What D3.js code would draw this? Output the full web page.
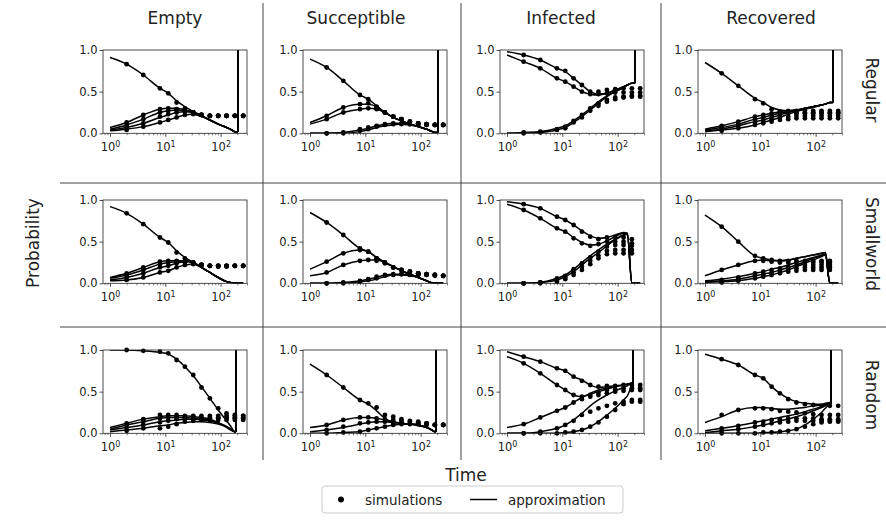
<!DOCTYPE html>
<html>
<head>
<meta charset="utf-8">
<script src="https://cdn.jsdelivr.net/npm/d3@7"></script>
<style>
  body { margin: 0; background: #fff; }
</style>
</head>
<body>
<div id="chart"></div>
<script>
const states = ["Empty", "Succeptible", "Infected", "Recovered"];
const networks = ["Regular", "Smallworld", "Random"];

// time grid of the approximation curves and of the simulation samples
const lineTimes = [1, 2, 4, 8, 11.3, 16, 22.6, 32, 45, 64, 90.5, 128, 150, 181, 256];
const dotTimes = [2, 4, 8, 11.3, 16, 22.6, 32, 45, 64, 90.5, 128, 181, 256];
// approximation blows up at the end for these rows (null = no blow up)
const spikeTimes = [205, null, 190];
const spikeTop = 1.5;

const xTicks = [1, 10, 100];
const yTicks = [0, 0.5, 1];

// ---- Regular ----
const regularEmptyLines = [
  [0.91,0.83,0.70,0.54,0.48,0.39,0.32,0.26,0.21,0.16,0.11,0.07,0.05,0.02,null],
  [0.07,0.13,0.22,0.29,0.30,0.30,0.28,0.26,0.21,0.16,0.11,0.07,0.05,0.02,null],
  [0.05,0.10,0.17,0.25,0.27,0.28,0.27,0.25,0.21,0.16,0.11,0.07,0.05,0.02,null],
  [0.04,0.07,0.12,0.19,0.22,0.25,0.26,0.25,0.21,0.16,0.11,0.07,0.05,0.02,null],
  [0.03,0.05,0.08,0.13,0.16,0.19,0.22,0.23,0.20,0.16,0.11,0.07,0.05,0.02,null]
];
const regularEmptyDots = [
  [0.83,0.70,0.54,0.48,0.37,0.30,0.25,0.22,0.21,0.21,0.21,0.21,0.21],
  [0.13,0.22,0.29,0.30,0.29,0.28,0.25,0.22,0.21,0.21,0.21,0.21,0.21],
  [0.10,0.17,0.25,0.27,0.28,0.27,0.25,0.22,0.21,0.21,0.21,0.21,0.21],
  [0.07,0.12,0.20,0.23,0.25,0.26,0.24,0.22,0.21,0.21,0.21,0.21,0.21],
  [0.04,0.08,0.13,0.16,0.19,0.22,0.23,0.22,0.21,0.21,0.21,0.21,0.21]
];
const regularSuscLines = [
  [0.89,0.79,0.63,0.46,0.41,0.33,0.25,0.19,0.15,0.11,0.08,0.05,0.03,0.01,null],
  [0.13,0.21,0.31,0.35,0.35,0.32,0.25,0.19,0.15,0.11,0.08,0.05,0.03,0.01,null],
  [0.11,0.17,0.25,0.29,0.30,0.29,0.25,0.19,0.15,0.11,0.08,0.05,0.03,0.01,null],
  [0.00,0.00,0.01,0.04,0.06,0.09,0.11,0.12,0.12,0.11,0.08,0.05,0.03,0.01,null],
  [0.00,0.00,0.00,0.02,0.04,0.07,0.09,0.10,0.11,0.10,0.08,0.05,0.03,0.01,null]
];
const regularSuscDots = [
  [0.79,0.63,0.46,0.41,0.32,0.25,0.20,0.17,0.14,0.12,0.11,0.10,0.10],
  [0.21,0.31,0.35,0.36,0.31,0.25,0.20,0.17,0.14,0.12,0.11,0.10,0.10],
  [0.17,0.25,0.29,0.30,0.29,0.25,0.20,0.17,0.14,0.12,0.11,0.10,0.10],
  [0.00,0.01,0.05,0.07,0.09,0.11,0.12,0.12,0.11,0.10,0.10,0.10,0.10],
  [0.00,0.00,0.03,0.05,0.08,0.10,0.11,0.11,0.11,0.10,0.10,0.10,0.10]
];
const regularInfLines = [
  [0.98,0.94,0.88,0.78,0.74,0.66,0.58,0.50,0.47,0.48,0.52,0.56,0.58,0.60,null],
  [0.94,0.86,0.78,0.66,0.62,0.56,0.50,0.47,0.46,0.48,0.52,0.56,0.58,0.60,null],
  [0.00,0.01,0.02,0.06,0.09,0.15,0.22,0.30,0.38,0.45,0.50,0.55,0.58,0.60,null],
  [0.00,0.00,0.01,0.04,0.07,0.13,0.20,0.28,0.36,0.44,0.50,0.55,0.58,0.60,null]
];
const regularInfDots = [
  [0.94,0.88,0.78,0.75,0.66,0.58,0.50,0.50,0.52,0.53,0.54,0.54,0.54],
  [0.86,0.78,0.66,0.62,0.56,0.50,0.47,0.47,0.48,0.49,0.49,0.49,0.49],
  [0.01,0.02,0.05,0.08,0.15,0.22,0.30,0.36,0.40,0.43,0.44,0.45,0.45],
  [0.00,0.01,0.04,0.06,0.13,0.19,0.27,0.33,0.38,0.41,0.43,0.44,0.44]
];
const regularRecLines = [
  [0.85,0.72,0.57,0.42,0.37,0.31,0.28,0.27,0.28,0.30,0.32,0.34,0.35,0.37,null],
  [0.05,0.09,0.14,0.20,0.22,0.24,0.26,0.27,0.28,0.30,0.32,0.34,0.35,0.37,null],
  [0.04,0.07,0.11,0.17,0.19,0.22,0.24,0.26,0.28,0.30,0.32,0.34,0.35,0.37,null],
  [0.03,0.05,0.09,0.14,0.16,0.19,0.22,0.25,0.27,0.29,0.32,0.34,0.35,0.37,null],
  [0.02,0.04,0.06,0.10,0.13,0.16,0.19,0.23,0.26,0.29,0.31,0.34,0.35,0.37,null]
];
const regularRecDots = [
  [0.72,0.57,0.41,0.36,0.29,0.26,0.25,0.25,0.25,0.25,0.25,0.25,0.25],
  [0.09,0.14,0.20,0.22,0.24,0.26,0.27,0.27,0.27,0.27,0.27,0.27,0.27],
  [0.07,0.11,0.17,0.19,0.21,0.23,0.24,0.24,0.24,0.24,0.24,0.24,0.24],
  [0.05,0.09,0.13,0.15,0.17,0.19,0.20,0.21,0.21,0.21,0.21,0.21,0.21],
  [0.03,0.06,0.10,0.12,0.14,0.16,0.17,0.18,0.18,0.18,0.18,0.18,0.18]
];

// ---- Smallworld ----
const smallEmptyLines = [
  [0.92,0.84,0.71,0.55,0.49,0.39,0.31,0.25,0.19,0.13,0.07,0.02,0.01,0.00,0.00],
  [0.07,0.12,0.19,0.26,0.27,0.27,0.27,0.25,0.19,0.13,0.07,0.02,0.01,0.00,0.00],
  [0.06,0.10,0.16,0.23,0.25,0.26,0.27,0.25,0.19,0.13,0.07,0.02,0.01,0.00,0.00],
  [0.04,0.07,0.12,0.19,0.21,0.24,0.26,0.25,0.19,0.13,0.07,0.02,0.01,0.00,0.00],
  [0.03,0.04,0.07,0.13,0.15,0.19,0.22,0.23,0.19,0.13,0.07,0.02,0.01,0.00,0.00]
];
const smallEmptyDots = [
  [0.84,0.71,0.55,0.49,0.37,0.30,0.25,0.22,0.21,0.20,0.20,0.21,0.21],
  [0.12,0.19,0.26,0.27,0.27,0.27,0.25,0.22,0.21,0.21,0.21,0.21,0.21],
  [0.10,0.16,0.23,0.25,0.26,0.26,0.24,0.22,0.21,0.21,0.21,0.21,0.21],
  [0.07,0.12,0.19,0.21,0.24,0.25,0.24,0.22,0.21,0.21,0.21,0.21,0.21],
  [0.04,0.07,0.13,0.15,0.19,0.22,0.23,0.22,0.21,0.21,0.21,0.21,0.21]
];
const smallSuscLines = [
  [0.85,0.73,0.58,0.42,0.38,0.31,0.25,0.20,0.15,0.11,0.07,0.03,0.01,0.00,0.00],
  [0.17,0.26,0.36,0.40,0.38,0.31,0.25,0.20,0.15,0.11,0.07,0.03,0.01,0.00,0.00],
  [0.09,0.13,0.22,0.27,0.28,0.28,0.25,0.20,0.15,0.11,0.07,0.03,0.01,0.00,0.00],
  [0.00,0.00,0.01,0.03,0.05,0.07,0.10,0.11,0.11,0.10,0.07,0.03,0.01,0.00,0.00],
  [0.00,0.00,0.00,0.02,0.03,0.05,0.08,0.10,0.10,0.09,0.07,0.03,0.01,0.00,0.00]
];
const smallSuscDots = [
  [0.73,0.58,0.42,0.38,0.30,0.25,0.19,0.16,0.14,0.12,0.11,0.10,0.09],
  [0.26,0.36,0.40,0.38,0.30,0.25,0.19,0.16,0.14,0.12,0.11,0.10,0.09],
  [0.13,0.22,0.27,0.28,0.27,0.24,0.19,0.16,0.14,0.12,0.11,0.10,0.09],
  [0.00,0.01,0.03,0.05,0.08,0.10,0.11,0.11,0.11,0.10,0.10,0.10,0.09],
  [0.00,0.00,0.02,0.04,0.06,0.09,0.10,0.11,0.10,0.10,0.10,0.09,0.09]
];
const smallInfLines = [
  [0.98,0.95,0.90,0.80,0.76,0.70,0.63,0.57,0.54,0.55,0.58,0.61,0.60,0.00,0.00],
  [0.95,0.88,0.78,0.66,0.62,0.55,0.49,0.46,0.47,0.51,0.56,0.60,0.60,0.00,0.00],
  [0.00,0.00,0.01,0.06,0.10,0.17,0.25,0.33,0.40,0.47,0.53,0.58,0.59,0.00,0.00],
  [0.00,0.00,0.01,0.04,0.08,0.14,0.22,0.30,0.37,0.45,0.52,0.58,0.59,0.00,0.00]
];
const smallInfDots = [
  [0.95,0.90,0.80,0.76,0.70,0.62,0.56,0.53,0.55,0.55,0.55,0.53,null],
  [0.88,0.78,0.66,0.62,0.54,0.48,0.45,0.47,0.50,0.50,0.50,0.48,null],
  [0.00,0.01,0.06,0.09,0.17,0.24,0.31,0.38,0.44,0.46,0.46,0.45,null],
  [0.00,0.01,0.04,0.07,0.13,0.20,0.27,0.33,0.39,0.40,0.40,0.40,null],
  [0.00,0.00,0.02,0.05,0.10,0.16,0.23,0.30,0.35,0.36,0.36,0.36,null]
];
const smallRecLines = [
  [0.82,0.68,0.50,0.33,0.30,0.28,0.27,0.28,0.30,0.32,0.34,0.36,0.37,0.00,0.00],
  [0.09,0.16,0.22,0.27,0.28,0.27,0.27,0.28,0.30,0.32,0.34,0.36,0.37,0.00,0.00],
  [0.03,0.05,0.08,0.12,0.14,0.17,0.19,0.22,0.25,0.28,0.31,0.34,0.35,0.00,0.00],
  [0.02,0.03,0.05,0.09,0.11,0.13,0.16,0.19,0.22,0.26,0.30,0.33,0.35,0.00,0.00],
  [0.01,0.02,0.03,0.06,0.08,0.10,0.13,0.16,0.20,0.24,0.28,0.32,0.34,0.00,0.00]
];
const smallRecDots = [
  [0.68,0.50,0.33,0.30,0.28,0.27,0.27,0.27,0.27,0.27,0.27,0.27,null],
  [0.16,0.22,0.27,0.27,0.26,0.25,0.25,0.25,0.25,0.25,0.25,0.25,null],
  [0.04,0.07,0.12,0.14,0.16,0.18,0.20,0.21,0.22,0.22,0.22,0.22,null],
  [0.02,0.05,0.09,0.11,0.13,0.15,0.17,0.18,0.19,0.19,0.19,0.19,null],
  [0.01,0.03,0.06,0.08,0.10,0.12,0.14,0.15,0.16,0.16,0.16,0.16,null]
];

// ---- Random ----
const randomEmptyLines = [
  [1.00,1.00,0.99,0.97,0.95,0.89,0.80,0.69,0.56,0.42,0.28,0.15,0.09,0.02,null],
  [0.07,0.12,0.17,0.20,0.21,0.21,0.21,0.20,0.19,0.17,0.13,0.08,0.05,0.02,null],
  [0.05,0.10,0.14,0.18,0.19,0.19,0.19,0.18,0.17,0.16,0.12,0.08,0.05,0.02,null],
  [0.04,0.07,0.10,0.14,0.15,0.16,0.17,0.17,0.16,0.15,0.12,0.08,0.05,0.02,null],
  [0.02,0.04,0.06,0.09,0.10,0.12,0.13,0.14,0.14,0.13,0.11,0.07,0.04,0.02,null]
];
const randomEmptyDots = [
  [1.00,0.99,0.98,0.96,0.88,0.80,0.70,0.55,0.42,0.30,0.24,0.22,0.21],
  [0.12,0.17,0.22,0.22,0.22,0.21,0.21,0.21,0.21,0.21,0.21,0.21,0.21],
  [0.10,0.14,0.18,0.19,0.20,0.20,0.20,0.19,0.19,0.19,0.19,0.19,0.19],
  [0.07,0.10,0.13,0.15,0.17,0.18,0.18,0.18,0.18,0.18,0.18,0.18,0.18],
  [0.03,0.06,0.06,0.08,0.11,0.14,0.15,0.16,0.16,0.16,0.16,0.16,0.16]
];
const randomSuscLines = [
  [0.83,0.70,0.55,0.40,0.35,0.27,0.18,0.13,0.12,0.11,0.10,0.07,0.05,0.02,null],
  [0.07,0.10,0.16,0.19,0.19,0.18,0.16,0.14,0.12,0.11,0.10,0.07,0.05,0.02,null],
  [0.02,0.04,0.07,0.11,0.13,0.14,0.14,0.13,0.12,0.11,0.10,0.07,0.05,0.02,null],
  [0.00,0.00,0.01,0.02,0.04,0.06,0.08,0.10,0.11,0.11,0.09,0.07,0.05,0.02,null]
];
const randomSuscDots = [
  [0.70,0.55,0.40,0.36,0.31,0.22,0.20,0.17,0.15,0.14,0.12,0.10,0.10],
  [0.10,0.16,0.19,0.19,0.18,0.17,0.16,0.15,0.14,0.13,0.12,0.10,0.10],
  [0.04,0.08,0.12,0.13,0.14,0.14,0.13,0.13,0.12,0.12,0.11,0.10,0.10],
  [0.00,0.01,0.02,0.04,0.06,0.08,0.10,0.11,0.11,0.11,0.10,0.10,0.10]
];
const randomInfLines = [
  [0.98,0.92,0.86,0.78,0.75,0.68,0.64,0.58,0.55,0.56,0.57,0.58,0.59,0.60,null],
  [0.92,0.84,0.72,0.58,0.52,0.46,0.44,0.47,0.50,0.53,0.56,0.58,0.59,0.60,null],
  [0.07,0.11,0.19,0.27,0.31,0.37,0.43,0.48,0.52,0.54,0.56,0.58,0.59,0.60,null],
  [0.00,0.00,0.02,0.06,0.10,0.16,0.24,0.33,0.40,0.46,0.51,0.55,0.57,0.60,null],
  [0.00,0.00,0.00,0.00,0.01,0.02,0.04,0.08,0.14,0.22,0.30,0.40,0.45,0.55,null]
];
const randomInfDots = [
  [0.92,0.86,0.78,0.75,0.68,0.63,0.58,0.56,0.57,0.57,0.58,0.58,0.58],
  [0.84,0.72,0.58,0.52,0.46,0.44,0.46,0.49,0.52,0.53,0.54,0.54,0.54],
  [0.11,0.19,0.27,0.31,0.37,0.41,0.44,0.46,0.48,0.50,0.51,0.52,0.52],
  [0.00,0.02,0.06,0.10,0.15,0.22,0.26,0.30,0.33,0.36,0.38,0.40,0.40],
  [0.00,0.00,0.00,0.01,0.02,0.04,0.08,0.13,0.20,0.28,0.35,0.38,0.38]
];
const randomRecLines = [
  [0.95,0.89,0.82,0.70,0.66,0.56,0.48,0.42,0.38,0.36,0.35,0.35,0.36,0.37,null],
  [0.13,0.20,0.28,0.31,0.31,0.30,0.29,0.29,0.30,0.31,0.33,0.34,0.35,0.37,null],
  [0.03,0.06,0.09,0.13,0.15,0.17,0.19,0.21,0.23,0.26,0.29,0.32,0.34,0.36,null],
  [0.01,0.03,0.05,0.08,0.10,0.12,0.15,0.17,0.20,0.23,0.27,0.31,0.33,0.36,null],
  [0.00,0.00,0.00,0.00,0.01,0.01,0.02,0.03,0.05,0.10,0.17,0.25,0.30,0.35,null]
];
const randomRecDots = [
  [0.89,0.82,0.70,0.66,0.56,0.48,0.41,0.37,0.35,0.34,0.33,0.33,0.33],
  [0.22,0.28,0.30,0.30,0.29,0.27,0.26,0.25,0.24,0.23,0.22,0.22,0.22],
  [0.06,0.09,0.13,0.14,0.16,0.17,0.18,0.18,0.18,0.18,0.17,0.17,0.17],
  [0.03,0.05,0.08,0.10,0.12,0.13,0.14,0.15,0.15,0.15,0.15,0.15,0.15],
  [0.00,0.00,0.00,0.01,0.01,0.02,0.03,0.05,0.08,0.11,0.13,0.14,0.14]
];

const panelLines = [
  [regularEmptyLines, regularSuscLines, regularInfLines, regularRecLines],
  [smallEmptyLines, smallSuscLines, smallInfLines, smallRecLines],
  [randomEmptyLines, randomSuscLines, randomInfLines, randomRecLines]
];
const panelDots = [
  [regularEmptyDots, regularSuscDots, regularInfDots, regularRecDots],
  [smallEmptyDots, smallSuscDots, smallInfDots, smallRecDots],
  [randomEmptyDots, randomSuscDots, randomInfDots, randomRecDots]
];

// ---- layout ----
const W = 886, H = 521;
const colLeft = [103, 303, 500, 698];
const rowTop = [50, 200, 350];
const pw = 144, ph = 83.3;
const font = "DejaVu Sans, sans-serif";
const ink = "#222";

const svg = d3.select("#chart").append("svg")
  .attr("width", W).attr("height", H)
  .style("font-family", font);

svg.append("defs").append("clipPath").attr("id", "clip")
  .append("rect").attr("width", pw).attr("height", ph);

const x = d3.scaleLog().domain([0.747, 300]).range([0, pw]);
const y = d3.scaleLinear().domain([0, 1]).range([ph, 0]);

const minorTicks = [0.8, 0.9, 2, 3, 4, 5, 6, 7, 8, 9, 20, 30, 40, 50, 60, 70, 80, 90, 200, 300];

const line = d3.line()
  .x(d => x(d[0]))
  .y(d => y(d[1]))
  .curve(d3.curveMonotoneX);
const straight = d3.line()
  .x(d => x(d[0]))
  .y(d => y(d[1]));

// subfigure separators
[263, 461, 661].forEach(sx => {
  svg.append("line").attr("x1", sx).attr("x2", sx).attr("y1", 3).attr("y2", 460)
    .attr("stroke", "#444").attr("stroke-width", 1);
});
[183, 327].forEach(sy => {
  svg.append("line").attr("x1", 60).attr("x2", 886).attr("y1", sy).attr("y2", sy)
    .attr("stroke", "#444").attr("stroke-width", 1);
});

networks.forEach((net, r) => {
  states.forEach((st, c) => {
    const g = svg.append("g").attr("transform", `translate(${colLeft[c]},${rowTop[r]})`);

    // x axis, minor then major
    g.append("g").attr("transform", `translate(0,${ph})`)
      .call(d3.axisBottom(x).tickValues(minorTicks).tickSize(2).tickFormat(""))
      .call(a => a.select(".domain").remove())
      .call(a => a.selectAll("line").attr("stroke", ink).attr("stroke-width", 0.6));

    const xa = g.append("g").attr("transform", `translate(0,${ph})`)
      .call(d3.axisBottom(x).tickValues(xTicks).tickSize(3.5).tickPadding(6).tickFormat(""))
      .call(a => a.select(".domain").remove());
    xa.selectAll("line").attr("stroke", ink).attr("stroke-width", 0.8);
    xa.selectAll(".tick text")
      .attr("fill", ink).attr("font-size", 11.5).attr("font-family", font)
      .each(function(d) {
        const t = d3.select(this);
        t.append("tspan").text("10");
        t.append("tspan").attr("dy", "-0.45em").attr("font-size", 8).text(Math.round(Math.log10(d)));
      });

    const ya = g.append("g")
      .call(d3.axisLeft(y).tickValues(yTicks).tickSize(3.5).tickPadding(2).tickFormat(d3.format(".1f")))
      .call(a => a.select(".domain").remove());
    ya.selectAll("line").attr("stroke", ink).attr("stroke-width", 0.8);
    ya.selectAll("text").attr("fill", ink).attr("font-size", 11.5).attr("font-family", font);

    // approximation lines
    const plot = g.append("g").attr("clip-path", "url(#clip)");
    panelLines[r][c].forEach(vals => {
      const pts = lineTimes.map((t, i) => [t, vals[i]]).filter(p => p[1] != null);
      const lineStyle = p => p.attr("fill", "none")
        .attr("stroke", "#000")
        .attr("stroke-width", 1.5)
        .attr("stroke-linejoin", "round");
      if (spikeTimes[r]) {
        const last = pts[pts.length - 1][1];
        pts.push([spikeTimes[r], last]);
        plot.append("path")
          .datum([[spikeTimes[r], last], [spikeTimes[r], spikeTop]])
          .call(lineStyle)
          .attr("d", straight);
      }
      plot.append("path")
        .datum(pts)
        .call(lineStyle)
        .attr("d", line);
    });

    // simulation dots
    panelDots[r][c].forEach(vals => {
      g.append("g").selectAll("circle")
        .data(dotTimes.map((t, i) => [t, vals[i]]).filter(p => p[1] != null))
        .join("circle")
        .attr("cx", d => x(d[0]))
        .attr("cy", d => y(d[1]))
        .attr("r", 2.4)
        .attr("fill", "#000");
    });

    g.append("rect").attr("width", pw).attr("height", ph)
      .attr("fill", "none").attr("stroke", ink).attr("stroke-width", 0.8);
  });
});

// column titles
const titleX = [175, 356, 561, 771];
states.forEach((st, c) => {
  svg.append("text").attr("x", titleX[c]).attr("y", 24)
    .attr("text-anchor", "middle").attr("font-size", 17).attr("fill", ink).text(st);
});

// row labels
const rowLabelY = [90, 244, 395];
networks.forEach((net, r) => {
  svg.append("text")
    .attr("transform", `translate(866,${rowLabelY[r]}) rotate(90)`)
    .attr("text-anchor", "middle").attr("font-size", 17).attr("fill", ink).text(net);
});

svg.append("text")
  .attr("transform", "translate(39,243) rotate(-90)")
  .attr("text-anchor", "middle").attr("font-size", 17).attr("fill", ink).text("Probability");

svg.append("text").attr("x", 466).attr("y", 481)
  .attr("text-anchor", "middle").attr("font-size", 17).attr("fill", ink).text("Time");

// legend
const lg = svg.append("g").attr("transform", "translate(322,486)");
lg.append("rect").attr("width", 301).attr("height", 27).attr("rx", 3)
  .attr("fill", "#fff").attr("stroke", "#ccc").attr("stroke-width", 1);
lg.append("circle").attr("cx", 19).attr("cy", 13.5).attr("r", 3).attr("fill", "#000");
lg.append("text").attr("x", 43).attr("y", 18.5).attr("font-size", 13.5).attr("fill", ink).text("simulations");
lg.append("line").attr("x1", 148).attr("x2", 175).attr("y1", 13.5).attr("y2", 13.5)
  .attr("stroke", "#000").attr("stroke-width", 1.5);
lg.append("text").attr("x", 186).attr("y", 18.5).attr("font-size", 13.5).attr("fill", ink).text("approximation");
</script>
</body>
</html>
